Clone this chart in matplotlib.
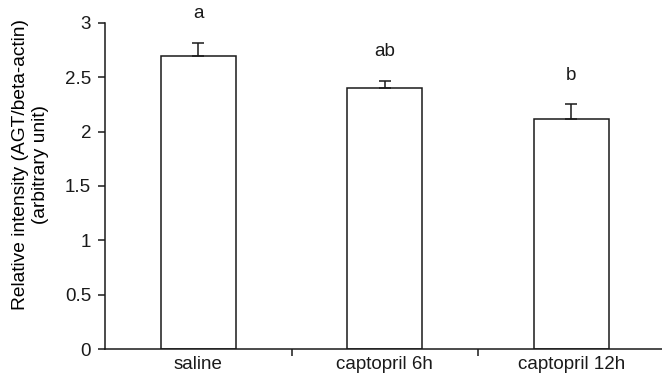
import matplotlib
matplotlib.use("Agg")
import matplotlib.pyplot as plt

categories = ["saline", "captopril 6h", "captopril 12h"]
means = [2.69, 2.40, 2.12]
errors = [0.125, 0.065, 0.13]
letters = ["a", "ab", "b"]

plt.rcParams['font.family'] = ['Liberation Sans', 'DejaVu Sans']
plt.rcParams['font.size'] = 13.5
plt.rcParams['text.color'] = '#1a1a1a'
plt.rcParams['xtick.color'] = '#1a1a1a'
plt.rcParams['ytick.color'] = '#1a1a1a'

fig = plt.figure(figsize=(6.62, 3.82), dpi=100)
ax = fig.add_axes([105/662, (382-349.3)/382, 559.5/662, (349.3-22.7)/382])

x = list(range(len(categories)))
ax.bar(x, means, width=0.40, color="white", edgecolor="#1a1a1a", linewidth=1.1, zorder=2)
ax.errorbar(x, means, yerr=[[0]*len(errors), errors], fmt="none", ecolor="#1a1a1a",
            elinewidth=1.1, capsize=4, capthick=1.1, zorder=3)
for xi, m, e, lab in zip(x, means, errors, letters):
    ax.annotate(lab, xy=(xi, m + e), xytext=(0, 21), textcoords="offset points",
                ha="center", va="center", fontsize=13.5)

ax.set_xlim(-0.5, len(categories) - 0.5)
ax.set_ylim(0, 3)
ax.set_yticks([0, 0.5, 1, 1.5, 2, 2.5, 3])
ax.set_yticklabels(["0", "0.5", "1", "1.5", "2", "2.5", "3"])
ax.set_xticks([i + 0.5 for i in x[:-1]])
ax.set_xticklabels([])
ax.set_xticks(x, minor=True)
ax.set_xticklabels(categories, minor=True)
ax.tick_params(axis="x", which="minor", length=0, pad=5, labelsize=13.5)
ax.tick_params(axis="x", which="major", length=5, direction="out", width=1.1)
ax.tick_params(axis="y", length=5, direction="out", width=1.1, pad=5, labelsize=13.5)
for s in ("left", "bottom"):
    ax.spines[s].set_linewidth(1.1)
    ax.spines[s].set_color("#1a1a1a")
ax.spines["top"].set_visible(False)
ax.spines["right"].set_visible(False)
ax.set_ylabel("Relative intensity (AGT/beta-actin)\n(arbitrary unit)", fontsize=13.8,
              linespacing=1.2)
ax.yaxis.set_label_coords(-0.10, 0.567)

fig.savefig("out.png", dpi=100)
